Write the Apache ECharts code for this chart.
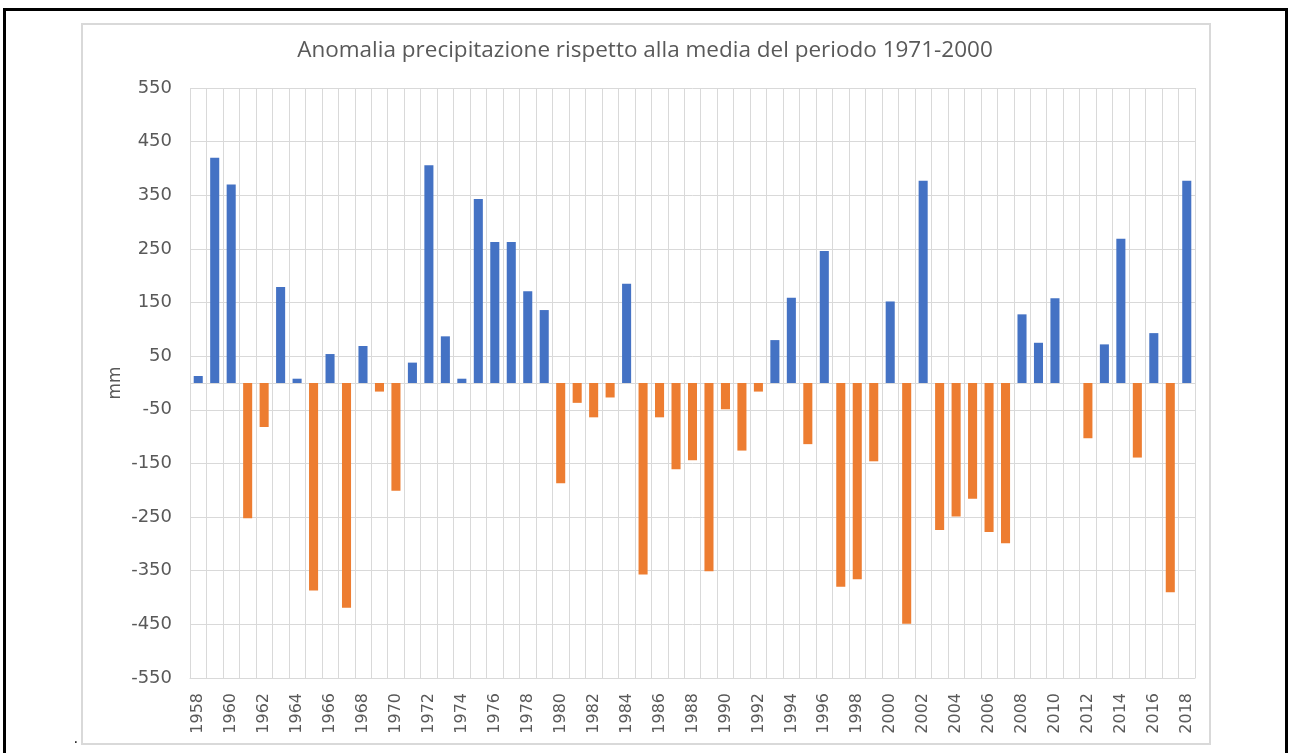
<!DOCTYPE html>
<html>
<head>
<meta charset="utf-8">
<title>Anomalia precipitazione</title>
<script src="https://cdn.jsdelivr.net/npm/echarts@6.0.0/dist/echarts.min.js"></script>
<style>
  html, body { margin: 0; padding: 0; background: #fff; }
  #chart { width: 1290px; height: 753px; }
</style>
</head>
<body>
<div id="chart"></div>
<script>
    // anni 1958-2018
    var years = [
        '1958','1959','1960','1961','1962','1963','1964','1965','1966','1967',
        '1968','1969','1970','1971','1972','1973','1974','1975','1976','1977',
        '1978','1979','1980','1981','1982','1983','1984','1985','1986','1987',
        '1988','1989','1990','1991','1992','1993','1994','1995','1996','1997',
        '1998','1999','2000','2001','2002','2003','2004','2005','2006','2007',
        '2008','2009','2010','2011','2012','2013','2014','2015','2016','2017',
        '2018'
    ];

    // anomalia (mm) rispetto alla media 1971-2000
    var anomaly = [
        13, 420, 370, -252, -82, 179, 8, -387, 54, -419,
        69, -16, -201, 38, 406, 87, 8, 343, 263, 263,
        171, 136, -187, -37, -64, -27, 185, -357, -64, -161,
        -144, -351, -49, -126, -16, 80, 159, -114, 246, -380,
        -366, -146, 152, -449, 377, -274, -249, -216, -278, -299,
        128, 75, 158, 0, -103, 72, 269, -139, 93, -390,
        377
    ];

    var yMin = -550;
    var yMax = 550;
    var yStep = 100;

    var textColor = '#595959';
    var gridColor = '#d9d9d9';
    var titleFont = 'Open Sans';
    var labelFont = 'DejaVu Sans';

    var dom = document.getElementById('chart');
    var myChart = echarts.init(dom);

    var option = {
        animation: false,
        backgroundColor: '#fff',
        title: {
            text: 'Anomalia precipitazione rispetto alla media del periodo 1971-2000',
            left: 'center',
            top: 34,
            textStyle: {
                color: textColor,
                fontFamily: titleFont,
                fontWeight: 'normal',
                fontSize: 22.5
            }
        },
        graphic: [
            {
                type: 'rect',
                shape: { x: 82, y: 24, width: 1128, height: 720 },
                style: { fill: 'none', stroke: gridColor, lineWidth: 2 },
                silent: true
            },
            {
                type: 'rect',
                shape: { x: 4.5, y: 9.5, width: 1282, height: 760 },
                style: { fill: 'none', stroke: '#000', lineWidth: 3 },
                silent: true
            },
            {
                type: 'text',
                left: 74,
                top: 732,
                style: { text: '.', fill: '#000', font: '14px ' + titleFont }
            }
        ],
        grid: {
            left: 190,
            right: 95,
            top: 88,
            bottom: 75
        },
        xAxis: {
            type: 'category',
            data: years,
            axisLine: { onZero: false, lineStyle: { color: gridColor } },
            axisTick: { show: false },
            axisLabel: {
                interval: 1,
                rotate: 90,
                margin: 15,
                color: textColor,
                fontFamily: labelFont,
                fontSize: 16
            },
            splitLine: {
                show: true,
                interval: 0,
                lineStyle: { color: gridColor, width: 1 }
            }
        },
        yAxis: {
            type: 'value',
            min: yMin,
            max: yMax,
            interval: yStep,
            name: 'mm',
            nameLocation: 'middle',
            nameRotate: 90,
            nameGap: 66,
            nameMoveOverlap: false,
            nameTextStyle: {
                color: textColor,
                fontFamily: labelFont,
                fontSize: 17
            },
            axisLine: { show: false },
            axisTick: { show: false },
            axisLabel: {
                margin: 18,
                color: textColor,
                fontFamily: labelFont,
                fontSize: 18
            },
            splitLine: {
                lineStyle: { color: gridColor, width: 1 }
            }
        },
        series: [
            {
                name: 'Anomalia',
                type: 'bar',
                data: anomaly,
                barWidth: '55%',
                itemStyle: {
                    color: function (p) {
                        return p.value >= 0 ? '#4472C4' : '#ED7D31';
                    }
                },
                markLine: {
                    silent: true,
                    symbol: 'none',
                    label: { show: false },
                    lineStyle: { color: gridColor, type: 'solid', width: 1 },
                    data: [{ yAxis: 0 }],
                    z: 1
                }
            }
        ]
    };

    if (option && typeof option === 'object') {
        myChart.setOption(option, true);
    }
</script>
</body>
</html>
